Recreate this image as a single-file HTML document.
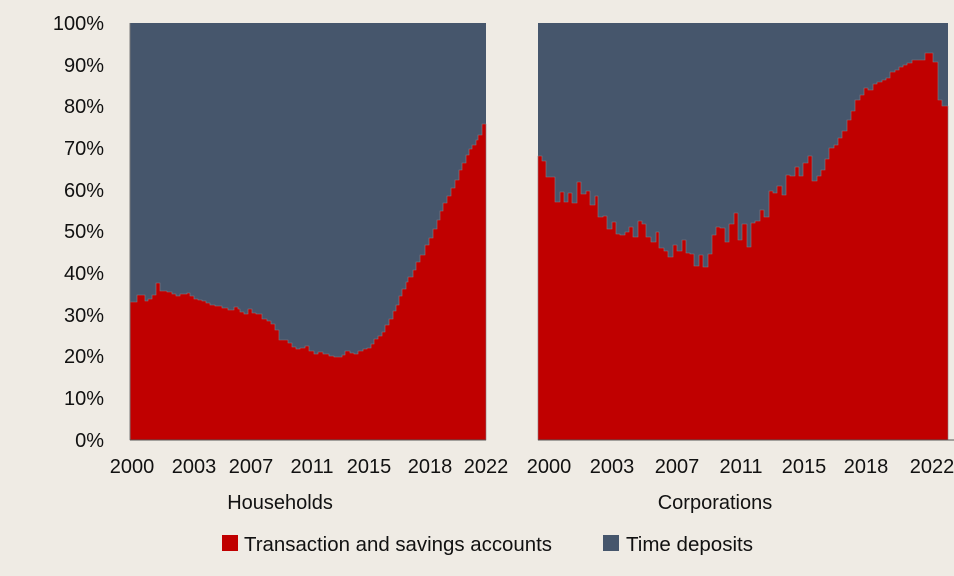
<!DOCTYPE html>
<html><head><meta charset="utf-8"><style>
html,body{margin:0;padding:0;background:#efebe4;}
svg{display:block;font-family:"Liberation Sans Narrow","Liberation Sans",sans-serif;}
</style></head><body>
<svg width="954" height="576" viewBox="0 0 954 576">
<rect width="954" height="576" fill="#efebe4"/>
<rect x="130" y="23" width="356" height="417" fill="#46566c"/>
<rect x="538" y="23" width="410" height="417" fill="#46566c"/>
<path fill="#c00000" stroke="#8a7a80" stroke-width="0.6" d="M130,440 V302 H137 V295 H145 V301 H148 V299 H152 V295 H156 V283 H160 V291 H167 V292 H172 V294 H176 V296 H180 V294 H187 V293 H190 V296 H194 V299 H198 V300 H202 V301 H206 V303 H210 V305 H215 V306 H222 V308 H228 V310 H234 V307 H238 V309 H240 V312 H244 V314 H248 V309 H252 V313 H256 V314 H262 V319 H267 V321 H271 V324 H275 V330 H279 V340 H284 V340 H288 V343 H292 V347 H296 V349 H300 V348 H305 V346 H309 V351 H314 V354 H318 V352 H323 V354 H329 V356 H334 V357 H338 V357 H342 V355 H345 V351 H350 V353 H354 V354 H358 V351 H363 V349 H367 V348 H371 V344 H374 V339 H378 V336 H382 V332 H385 V325 H389 V319 H393 V311 H396 V305 H399 V296 H402 V289 H406 V282 H408 V277 H413 V270 H416 V262 H420 V255 H425 V245 H429 V238 H433 V229 H437 V220 H440 V211 H443 V203 H447 V196 H451 V188 H455 V180 H459 V170 H462 V163 H466 V155 H469 V149 H472 V145 H476 V140 H478 V135 H482 V124 H486 V440 Z"/>
<path fill="#c00000" stroke="#8a7a80" stroke-width="0.6" d="M538,440 V156 H542 V161 H546 V177 H555 V202 H560 V192 H564 V202 H568 V193 H572 V203 H577 V182 H581 V194 H586 V191 H590 V205 H595 V196 H598 V217 H603 V216 H607 V229 H612 V222 H616 V234 H620 V235 H625 V232 H629 V227 H633 V237 H638 V221 H642 V224 H646 V237 H651 V242 H656 V232 H659 V248 H664 V251 H668 V257 H673 V245 H677 V251 H682 V240 H686 V253 H690 V254 H694 V266 H699 V255 H703 V267 H708 V254 H712 V235 H716 V227 H720 V228 H725 V242 H729 V224 H734 V213 H738 V240 H742 V224 H747 V247 H751 V223 H755 V221 H760 V210 H764 V217 H769 V191 H773 V193 H777 V186 H782 V195 H786 V175 H790 V176 H795 V167 H799 V176 H803 V163 H808 V156 H812 V181 H817 V176 H821 V170 H825 V159 H829 V148 H834 V145 H838 V138 H842 V131 H847 V120 H851 V111 H855 V100 H860 V95 H864 V88 H868 V90 H873 V84 H877 V82 H882 V80 H886 V78 H890 V72 H895 V70 H899 V67 H903 V65 H907 V63 H912 V60 H925 V53 H933 V62 H938 V100 H942 V106 H948 V440 Z"/>
<line x1="130" y1="23" x2="130" y2="440" stroke="#777" stroke-width="1"/>
<line x1="130" y1="440" x2="486" y2="440" stroke="#555" stroke-width="1"/>
<line x1="538" y1="440" x2="954" y2="440" stroke="#555" stroke-width="1"/>
<g font-size="20" fill="#111" text-anchor="end">
<text x="104" y="30">100%</text><text x="104" y="72">90%</text><text x="104" y="113">80%</text>
<text x="104" y="155">70%</text><text x="104" y="197">60%</text><text x="104" y="238">50%</text>
<text x="104" y="280">40%</text><text x="104" y="322">30%</text><text x="104" y="363">20%</text>
<text x="104" y="405">10%</text><text x="104" y="447">0%</text>
</g>
<g font-size="20" fill="#111" text-anchor="middle">
<text x="132" y="473">2000</text><text x="194" y="473">2003</text><text x="251" y="473">2007</text>
<text x="312" y="473">2011</text><text x="369" y="473">2015</text><text x="430" y="473">2018</text>
<text x="486" y="473">2022</text>
<text x="549" y="473">2000</text><text x="612" y="473">2003</text><text x="677" y="473">2007</text>
<text x="741" y="473">2011</text><text x="804" y="473">2015</text><text x="866" y="473">2018</text>
<text x="932" y="473">2022</text>
<text x="280" y="509">Households</text><text x="715" y="509">Corporations</text>
</g>
<rect x="222" y="535" width="16" height="16" fill="#c00000"/>
<text x="244" y="551" font-size="20" fill="#111" textLength="308" lengthAdjust="spacingAndGlyphs">Transaction and savings accounts</text>
<rect x="603" y="535" width="16" height="16" fill="#46566c"/>
<text x="626" y="551" font-size="20" fill="#111" textLength="127" lengthAdjust="spacingAndGlyphs">Time deposits</text>
</svg>
</body></html>
